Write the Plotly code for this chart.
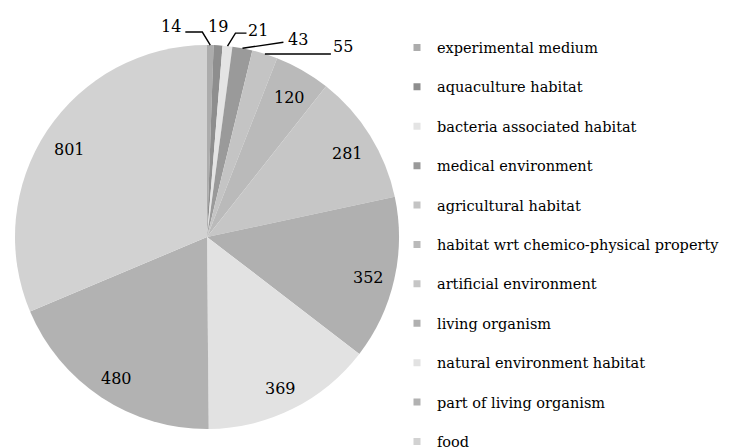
import math
import plotly.graph_objects as go

# ---- data ----
categories = [
    "experimental medium",
    "aquaculture habitat",
    "bacteria associated habitat",
    "medical environment",
    "agricultural habitat",
    "habitat wrt chemico-physical property",
    "artificial environment",
    "living organism",
    "natural environment habitat",
    "part of living organism",
    "food",
]
counts = [14, 19, 21, 43, 55, 120, 281, 352, 369, 480, 801]
slice_colors = [
    "#acacac", "#8e8e8e", "#e4e4e4", "#9a9a9a", "#c4c4c4", "#bababa",
    "#c6c6c6", "#b0b0b0", "#e2e2e2", "#b2b2b2", "#d2d2d2",
]

# ---- layout / style ----
W, H = 730, 472                    # taller than the window so the legend is not squeezed
CX, CY, R = 199, 229, 192          # pie centre & radius in figure pixels (from top-left)
FONT = "DejaVu Serif"
LABEL_SIZE = 16
# small slices: label offset from slice-edge tip, and leader polyline offsets (pixels)
outside_style = {
    0: dict(label=(-39, -19), line=[(-8, -13), (-25, -13)]),
    1: dict(label=(0, -19), line=None),
    2: dict(label=(31, -16), line=[(8, -13), (19, -13)]),
    3: dict(label=(56, -9), line=[(41, -6)]),
    4: dict(label=(78, -7), line=[(66, 0)]),
}
INSIDE_FRAC = 0.86
INSIDE_DY = 4
LEGEND_TOP = 23.5


def to_paper(px, py):
    return px / W, 1 - py / H


fig = go.Figure()
fig.add_trace(go.Pie(
    labels=categories, values=counts, sort=False, direction="clockwise",
    rotation=0, marker=dict(colors=slice_colors, line=dict(width=0)),
    textinfo="none", hoverinfo="label+value", showlegend=False,
    domain=dict(x=[(CX - R) / W, (CX + R) / W],
                y=[(H - CY - R) / H, (H - CY + R) / H]),
))

# legend entries (one per category) using the same colours
for name, col in zip(categories, slice_colors):
    fig.add_trace(go.Scatter(
        x=[None], y=[None], mode="markers", name=name, legendgroup=name,
        marker=dict(symbol="square", size=7, color=col), hoverinfo="skip",
    ))

total = sum(counts)
cum = 0
annotations = []
shapes = []
for i, v in enumerate(counts):
    theta = math.radians((cum + v / 2) / total * 360)
    cum += v
    if i in outside_style:
        st = outside_style[i]
        px = CX + R * math.sin(theta)
        py = CY - R * math.cos(theta)
        lx, ly = st["label"]
        x, y = to_paper(px + lx, py + ly)
        annotations.append(dict(
            x=x, y=y, xref="paper", yref="paper", xanchor="center",
            yanchor="middle", text=str(v), showarrow=False,
            font=dict(family=FONT, size=LABEL_SIZE, color="#000")))
        if st["line"]:
            pts = [(px, py)] + [(px + dx, py + dy) for dx, dy in st["line"]]
            path = " ".join(
                ("M" if k == 0 else "L") + " {:.4f},{:.4f}".format(*to_paper(a, b))
                for k, (a, b) in enumerate(pts))
            shapes.append(dict(type="path", path=path, xref="paper",
                               yref="paper", line=dict(color="#000", width=1.4)))
    else:
        px = CX + INSIDE_FRAC * R * math.sin(theta)
        py = CY - INSIDE_FRAC * R * math.cos(theta) + INSIDE_DY
        x, y = to_paper(px, py)
        annotations.append(dict(
            x=x, y=y, xref="paper", yref="paper", xanchor="center",
            yanchor="middle", text=str(v), showarrow=False,
            font=dict(family=FONT, size=LABEL_SIZE, color="#000")))

fig.update_layout(
    width=W, height=H,
    margin=dict(l=0, r=0, t=0, b=0),
    paper_bgcolor="white", plot_bgcolor="white",
    xaxis=dict(visible=False), yaxis=dict(visible=False),
    annotations=annotations,
    shapes=shapes,
    legend=dict(
        x=389 / W, xanchor="left", y=1 - LEGEND_TOP / H, yanchor="top",
        font=dict(family=FONT, size=14.5, color="#000"),
        tracegroupgap=17.55, bgcolor="rgba(0,0,0,0)",
    ),
    font=dict(family=FONT),
)

fig.write_html("out.html")
